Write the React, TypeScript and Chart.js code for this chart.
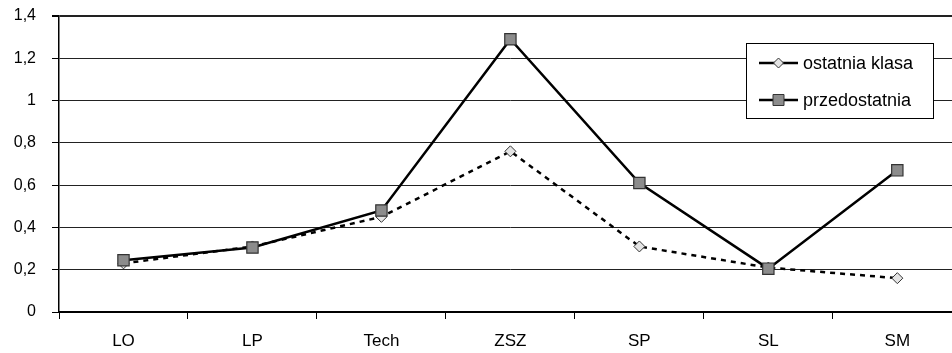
import React, { useEffect, useRef } from "react";
import { Chart, registerables } from "chart.js";

Chart.register(...registerables);

const categories = ["LO", "LP", "Tech", "ZSZ", "SP", "SL", "SM"];
const ostatniaKlasa = [0.23, 0.31, 0.45, 0.76, 0.31, 0.21, 0.16];
const przedostatnia = [0.245, 0.305, 0.48, 1.29, 0.61, 0.205, 0.67];
const seriesLabels = ["ostatnia klasa", "przedostatnia"];
const yMin = 0;
const yMax = 1.4;
const yStep = 0.2;

const FONT = "'Liberation Sans', Arial, sans-serif";

const legendPlugin = {
  id: "boxLegend",
  afterDraw(chart: any) {
    const ctx = chart.ctx;
    ctx.save();
    const x0 = 746, y0 = 43, w = 187, h = 75;
    ctx.fillStyle = "#fff";
    ctx.fillRect(x0, y0, w, h);
    ctx.strokeStyle = "#000";
    ctx.lineWidth = 1;
    ctx.strokeRect(x0 + 0.5, y0 + 0.5, w, h);
    const rows = [63, 100];
    chart.data.datasets.forEach((ds: any, i: number) => {
      const y = rows[i];
      ctx.strokeStyle = "#000";
      ctx.lineWidth = 2.5;
      ctx.setLineDash([]);
      ctx.beginPath();
      ctx.moveTo(759, y);
      ctx.lineTo(798, y);
      ctx.stroke();
      ctx.fillStyle = ds.pointBackgroundColor;
      ctx.strokeStyle = ds.pointBorderColor;
      ctx.lineWidth = 1;
      ctx.beginPath();
      if (ds.pointStyle === "rectRot") {
        const r = 5;
        ctx.moveTo(778.5, y - r);
        ctx.lineTo(778.5 + r, y);
        ctx.lineTo(778.5, y + r);
        ctx.lineTo(778.5 - r, y);
        ctx.closePath();
      } else {
        ctx.rect(773, y - 5.5, 11, 11);
      }
      ctx.fill();
      ctx.stroke();
      ctx.fillStyle = "#000";
      ctx.font = `18px ${FONT}`;
      ctx.textBaseline = "middle";
      ctx.textAlign = "left";
      ctx.fillText(ds.label, 803, y + 1);
    });
    ctx.restore();
  },
};

export default function App() {
  const ref = useRef<HTMLCanvasElement>(null);
  useEffect(() => {
    if (!ref.current) return;
    const chart = new Chart(ref.current, {
      type: "line",
      data: {
        labels: categories,
        datasets: [
          {
            label: seriesLabels[0],
            data: ostatniaKlasa,
            borderColor: "#000",
            borderWidth: 2.5,
            borderDash: [5, 5],
            pointStyle: "rectRot",
            pointRadius: 5.5,
            pointBackgroundColor: "#e4e4e4",
            pointBorderColor: "#333",
            pointBorderWidth: 1,
            tension: 0,
            order: 1,
          } as any,
          {
            label: seriesLabels[1],
            data: przedostatnia,
            borderColor: "#000",
            borderWidth: 2.5,
            pointStyle: "rect",
            pointRadius: 8,
            pointBackgroundColor: "#8c8c8c",
            pointBorderColor: "#333",
            pointBorderWidth: 1.2,
            tension: 0,
            order: 0,
          } as any,
        ],
      },
      options: {
        animation: false,
        responsive: false,
        maintainAspectRatio: false,
        layout: { padding: { top: 16, left: 0, right: 0, bottom: 0 } },
        plugins: { legend: { display: false }, tooltip: { enabled: false } },
        scales: {
          x: {
            type: "category",
            offset: true,
            grid: {
              offset: true,
              drawOnChartArea: false,
              drawTicks: true,
              tickLength: 7,
              color: "#000",
              lineWidth: 1,
            },
            border: { color: "#000", width: 2 },
            ticks: {
              color: "#000",
              font: { family: FONT, size: 17 },
              padding: 12,
            },
            afterFit(scale: any) {
              scale.height = 41;
              scale.paddingLeft = 0;
              scale.paddingRight = 0;
            },
          },
          y: {
            min: yMin,
            max: yMax,
            grid: {
              color: "#222",
              lineWidth: (c: any) => (c.tick && Math.abs(c.tick.value - yMax) < 1e-6 ? 2 : 1),
              tickLength: 7,
              tickColor: "#000",
            },
            border: { color: "#000", width: 1.5 },
            ticks: {
              stepSize: yStep,
              color: "#000",
              font: { family: FONT, size: 16 },
              padding: 16,
              callback: (v: any) => String(Math.round(Number(v) * 10) / 10).replace(".", ","),
            },
            afterFit(scale: any) {
              scale.width = 59;
              scale.paddingTop = 0;
              scale.paddingBottom = 0;
            },
          },
        },
      },
      plugins: [legendPlugin],
    });
    return () => chart.destroy();
  }, []);
  return (
    <div
      style={{
        position: "fixed",
        left: 0,
        top: 0,
        width: 952,
        height: 353,
        overflow: "hidden",
        background: "#fff",
      }}
    >
      <canvas ref={ref} width={971} height={353} style={{ width: 971, height: 353, display: "block" }} />
    </div>
  );
}
